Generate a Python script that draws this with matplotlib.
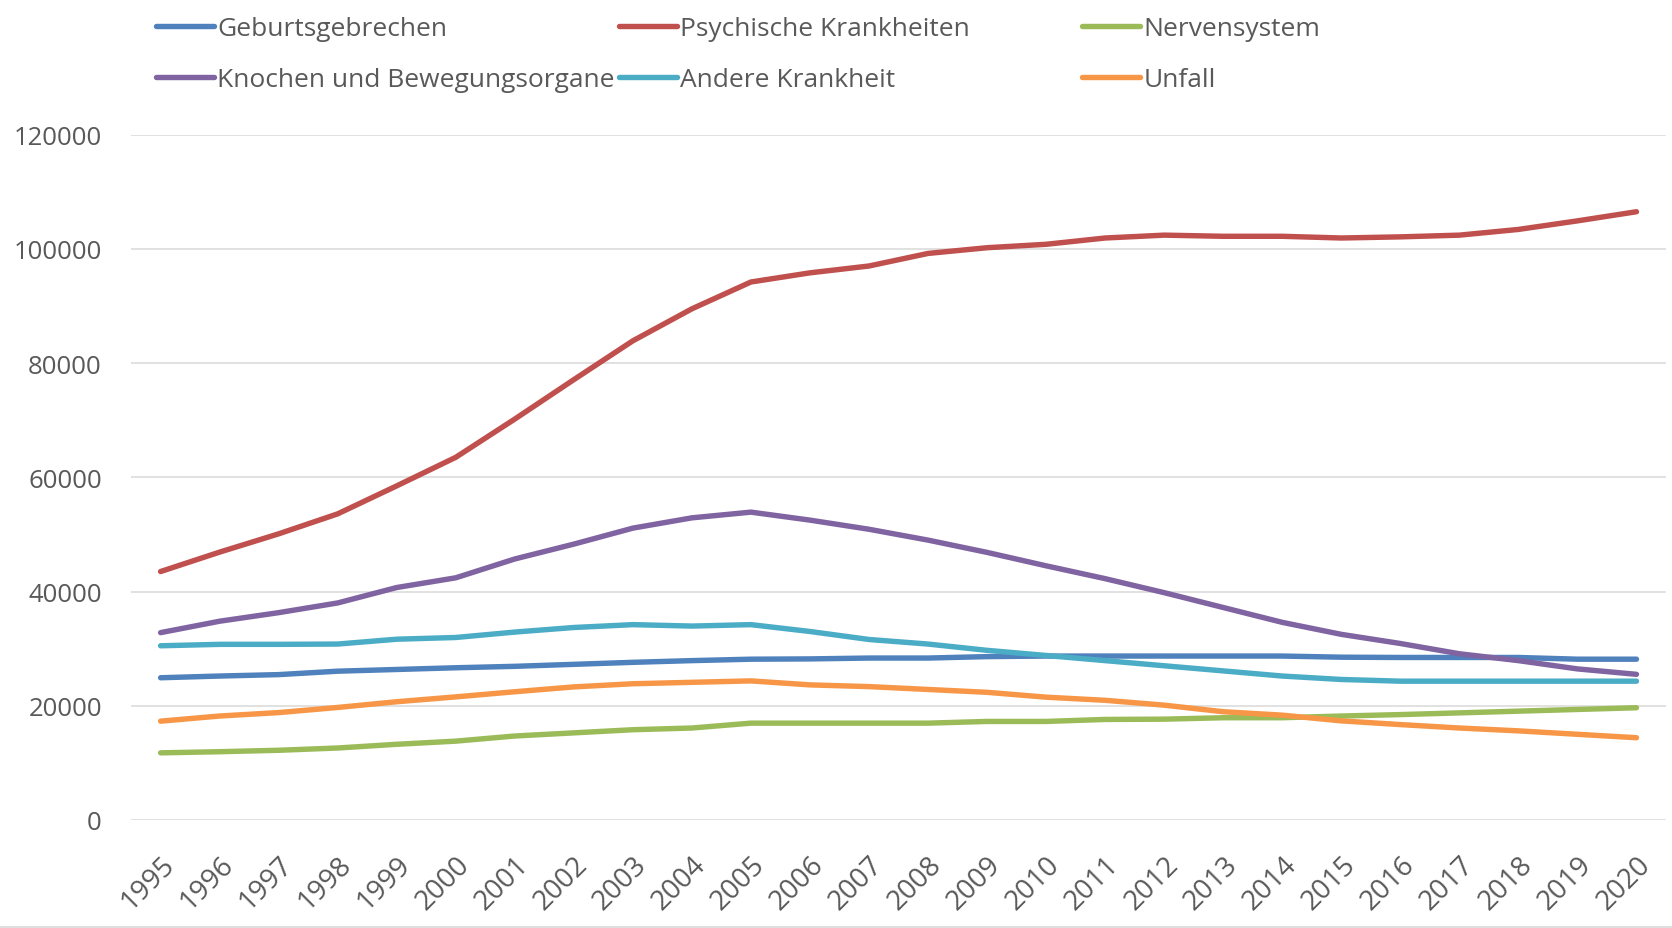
import matplotlib
matplotlib.use("Agg")
import matplotlib.pyplot as plt
from matplotlib.lines import Line2D
import numpy as np

plt.rcParams["font.family"] = ["Open Sans", "DejaVu Sans"]

years = [str(y) for y in range(1995, 2021)]

# Werte (Schätzwerte)
geburtsgebrechen = [24900, 25200, 25450, 26050, 26350, 26650, 26900, 27250, 27600, 27900,
                    28150, 28200, 28350, 28350, 28600, 28700, 28700, 28700, 28700, 28700,
                    28500, 28450, 28450, 28450, 28150, 28150]
psychische = [43500, 46900, 50100, 53600, 58500, 63500, 70200, 77100, 83900, 89500,
              94200, 95800, 97000, 99200, 100200, 100800, 101900, 102400, 102200, 102200,
              101900, 102100, 102400, 103400, 104900, 106500]
nervensystem = [11750, 11950, 12200, 12600, 13250, 13800, 14700, 15250, 15800, 16100,
                16950, 16950, 16950, 16950, 17250, 17250, 17600, 17650, 17900, 17900,
                18200, 18450, 18750, 19050, 19350, 19650]
knochen = [32800, 34800, 36300, 38000, 40700, 42400, 45700, 48300, 51100, 52900,
           53900, 52500, 50900, 49000, 46850, 44500, 42250, 39800, 37200, 34600,
           32500, 30900, 29100, 27900, 26450, 25500]
andere = [30500, 30750, 30750, 30800, 31650, 31950, 32900, 33700, 34200, 33950,
          34200, 33000, 31600, 30800, 29700, 28800, 27900, 27000, 26100, 25200,
          24600, 24300, 24300, 24300, 24300, 24300]
unfall = [17300, 18200, 18800, 19700, 20700, 21550, 22450, 23300, 23850, 24100,
          24350, 23650, 23350, 22850, 22350, 21500, 20950, 20100, 18950, 18350,
          17350, 16700, 16100, 15600, 15000, 14400]

labels = ["Geburtsgebrechen", "Psychische Krankheiten", "Nervensystem",
          "Knochen und Bewegungsorgane", "Andere Krankheit", "Unfall"]
series = [geburtsgebrechen, psychische, nervensystem, knochen, andere, unfall]
colors = ["#4F81BD", "#C0504D", "#9BBB59", "#8064A2", "#4BACC6", "#F79646"]

yticks = [0, 20000, 40000, 60000, 80000, 100000, 120000]

text_color = "#595959"
grid_color = "#D9D9D9"

fig = plt.figure(figsize=(16.72, 9.29), dpi=100)
ax = fig.add_axes([0.0784, 0.1163, 0.918, 0.7377])

x = np.arange(len(years))
for vals, col, lab in zip(series, colors, labels):
    ax.plot(x, vals, color=col, lw=3.9, solid_capstyle="round",
            solid_joinstyle="round", label=lab, zorder=3)

ax.set_xlim(-0.5, len(years) - 0.5)
ax.set_ylim(0, 120000)
ax.set_yticks(yticks)
ax.set_yticklabels([str(v) for v in yticks])
ax.set_xticks(x)
ax.set_xticklabels(years, rotation=45, ha="right", rotation_mode="anchor")
ax.yaxis.grid(True, color=grid_color, lw=1.1)
ax.set_axisbelow(True)
for s in ax.spines.values():
    s.set_visible(False)
ax.tick_params(axis="y", length=0, pad=21, labelsize=18.5, labelcolor=text_color)
ax.tick_params(axis="x", length=0, pad=22, labelsize=20, labelcolor=text_color)

# Legende: drei gleich breite Spalten wie im Original
handles = [Line2D([], [], color=c, lw=3.9, solid_capstyle="round") for c in colors]
col_x = [0.087, 0.364, 0.641]
for i, cx in enumerate(col_x):
    fig.legend([handles[i], handles[i + 3]], [labels[i], labels[i + 3]],
               loc="upper left", bbox_to_anchor=(cx, 0.993), frameon=False,
               fontsize=19, labelcolor=text_color, handlelength=2.2,
               handletextpad=0.12, labelspacing=1.0, borderaxespad=0.0)

# feine Rahmenlinie unten
fig.add_artist(Line2D([0, 1], [0.0015, 0.0015], color=grid_color, lw=1.2,
                      transform=fig.transFigure))

fig.savefig("out.png", dpi=100)
